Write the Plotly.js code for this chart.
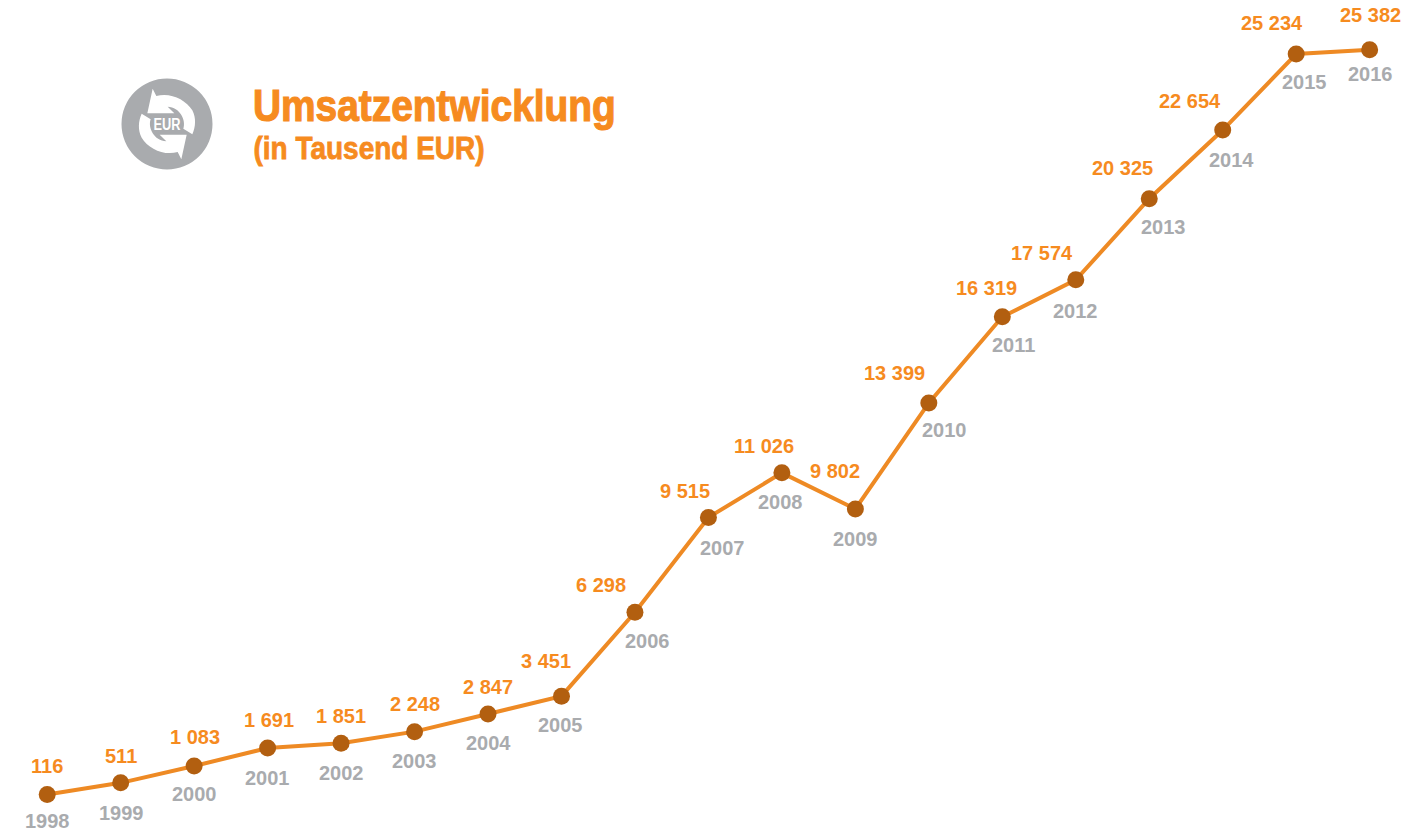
<!DOCTYPE html>
<html>
<head>
<meta charset="utf-8">
<script src="https://cdn.plot.ly/plotly-3.0.1.min.js"></script>
<style>html,body{margin:0;padding:0;background:#fff;overflow:hidden}#chart{width:1427px;height:835px}</style>
</head>
<body>
<div id="chart"></div>
<script>
const years = [1998,1999,2000,2001,2002,2003,2004,2005,2006,2007,2008,2009,2010,2011,2012,2013,2014,2015,2016];
const revenue = [116,511,1083,1691,1851,2248,2847,3451,6298,9515,11026,9802,13399,16319,17574,20325,22654,25234,25382];
const valueShiftX = [0,0,1,1,0,0,0,-15,-34,-23,-18,-20,-34,-16,-34,-27,-33,-24,1];
const valueShiftY = [28,27,29,28,27,28,27,35,27,26,27,38,30,29,27,31,29,31,35];
const yearShiftX = [0,1,0,0,0,0,0,-1,13,14,-1,0,16,11,0,14,9,8,1];
const yearShiftY = [27,30,28,30,30,29,29,29,29,31,29,30,27,28,31,28,30,28,24];

const W = 1427, H = 835;
const ORANGE = '#F68B1F', LINE = '#EE8A24', DOT = '#B25F10', GREY = '#A9ABAE';
const FONT = '"Liberation Sans",sans-serif';
const fx = px => px / W, fy = py => 1 - py / H;

// Icon outline in reference pixels
const ic = (x, y) => (fx(115 + x / 3)).toFixed(5) + ',' + (fy(72 + y / 3)).toFixed(5);
const arrow = r => {
  const p = (x, y) => r ? ic(312 - x, 312 - y) : ic(x, y);
  return 'M' + p(113,50) + ' L' + p(124,72) +
    ' C' + p(165,60) + ' ' + p(212,82) + ' ' + p(232,115) +
    ' C' + p(244,138) + ' ' + p(242,165) + ' ' + p(232,187) +
    ' L' + p(205,170) +
    ' C' + p(214,145) + ' ' + p(195,105) + ' ' + p(158,104) +
    ' L' + p(178,124) + ' L' + p(97,124) + ' Z';
};

const shapes = [
  {type:'circle', xref:'paper', yref:'paper', x0:fx(121.5), x1:fx(212.5), y0:fy(169.5), y1:fy(78.5),
   fillcolor:GREY, line:{width:0}, layer:'below'},
  {type:'path', xref:'paper', yref:'paper', path:arrow(false), fillcolor:'#fff', line:{width:0}, layer:'below'},
  {type:'path', xref:'paper', yref:'paper', path:arrow(true), fillcolor:'#fff', line:{width:0}, layer:'below'}
];

const annotations = [];
years.forEach((yr, i) => {
  const label = String(revenue[i]).replace(/\B(?=(\d{3})+$)/g, ' ');
  annotations.push({x:yr, y:revenue[i], xref:'x', yref:'y', text:'<b>' + label + '</b>', showarrow:false,
    xanchor:'center', yanchor:'middle', xshift:valueShiftX[i], yshift:valueShiftY[i],
    font:{family:FONT, size:20, color:ORANGE}});
  annotations.push({x:yr, y:revenue[i], xref:'x', yref:'y', text:'<b>' + yr + '</b>', showarrow:false,
    xanchor:'center', yanchor:'middle', xshift:yearShiftX[i], yshift:-yearShiftY[i],
    font:{family:FONT, size:20, color:GREY}});
});
const squeezed = {'Umsatzentwicklung':[363,1.2], '(in Tausend EUR)':[231,0.8], 'EUR':[27,0]};
annotations.push({xref:'paper', yref:'paper', x:fx(434.5), y:fy(105), text:'<b>Umsatzentwicklung</b>', showarrow:false,
  xanchor:'center', yanchor:'middle', font:{family:FONT, size:44, color:ORANGE}});
annotations.push({xref:'paper', yref:'paper', x:fx(368.5), y:fy(148), text:'<b>(in Tausend EUR)</b>', showarrow:false,
  xanchor:'center', yanchor:'middle', font:{family:FONT, size:31, color:ORANGE}});
annotations.push({xref:'paper', yref:'paper', x:fx(167), y:fy(124), text:'<b>EUR</b>', showarrow:false,
  xanchor:'center', yanchor:'middle', font:{family:FONT, size:16, color:'#fff'}});

Plotly.newPlot('chart', [{
  type:'scatter', mode:'lines+markers', x:years, y:revenue, hoverinfo:'skip',
  line:{color:LINE, width:4}, marker:{color:DOT, size:17, line:{width:0}}
}], {
  width:W, height:H, margin:{l:0,r:0,t:0,b:0}, showlegend:false,
  paper_bgcolor:'#fff', plot_bgcolor:'#fff',
  xaxis:{range:[1998 - 47.2/73.47, 1998 + 1379.8/73.47], visible:false, fixedrange:true},
  yaxis:{range:[-1258, 27066], visible:false, fixedrange:true},
  shapes, annotations
}, {displayModeBar:false, staticPlot:true}).then(() => {
  document.querySelectorAll('#chart .annotation-text').forEach(t => {
    const spec = squeezed[t.textContent];
    if (!spec) return;
    const target = t.querySelector('tspan') || t;
    target.setAttribute('textLength', spec[0]);
    target.setAttribute('lengthAdjust', 'spacingAndGlyphs');
    if (spec[1]) {
      target.setAttribute('stroke', ORANGE);
      target.setAttribute('stroke-width', spec[1]);
    }
  });
});
</script>
</body>
</html>
